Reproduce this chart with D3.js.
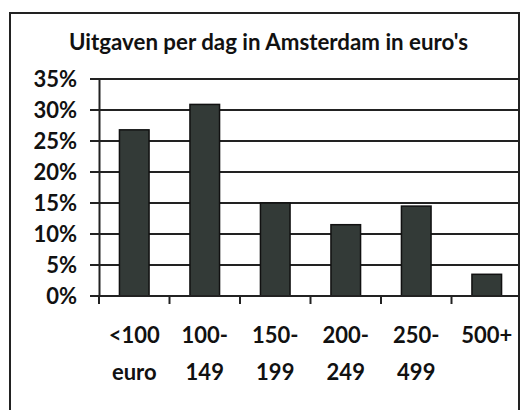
<!DOCTYPE html>
<html><head><meta charset="utf-8">
<script src="https://cdn.jsdelivr.net/npm/d3@7"></script>
<style>body{margin:0;background:#fff}svg{display:block}</style>
</head><body>
<script>
const title = "Uitgaven per dag in Amsterdam in euro's";
const categories = ["<100 euro", "100- 149", "150- 199", "200- 249", "250- 499", "500+"];
const labelLines = [["<100","euro"],["100-","149"],["150-","199"],["200-","249"],["250-","499"],["500+"]];
const values = [0.268, 0.309, 0.150, 0.115, 0.145, 0.035];
const yTicks = [0, 0.05, 0.10, 0.15, 0.20, 0.25, 0.30, 0.35];

const W = 521, H = 410;
const font = "Lato, 'Open Sans', sans-serif";
const svg = d3.select("body").append("svg").attr("width", W).attr("height", H);
svg.append("rect").attr("width", W).attr("height", H).attr("fill", "#fff");

// outer frame
svg.append("rect").attr("x", 10).attr("y", 13).attr("width", 509).attr("height", 420)
  .attr("fill", "#fff").attr("stroke", "#222").attr("stroke-width", 2);

const x = d3.scaleBand().domain(categories).range([99, 522]).paddingInner(0.58).paddingOuter(0.29);
const y = d3.scaleLinear().domain([0, 0.35]).range([296, 79]);

svg.append("text").attr("x", 268.5).attr("y", 50).attr("text-anchor", "middle")
  .attr("font-family", font).attr("font-weight", "bold").attr("font-size", 22.3)
  .attr("fill", "#111").text(title);

// gridlines
const g = svg.append("g");
g.selectAll("line.grid").data(yTicks).join("line")
  .attr("x1", 90).attr("x2", 520)
  .attr("y1", d => y(d)).attr("y2", d => y(d))
  .attr("stroke", "#222").attr("stroke-width", 1.8);

// y axis
const yAxis = d3.axisLeft(y).tickValues(yTicks).tickFormat(d3.format(".0%")).tickSize(0).tickPadding(22);
const ya = svg.append("g").attr("transform", "translate(99,0)").call(yAxis);
ya.select(".domain").attr("stroke", "#222").attr("stroke-width", 2);
ya.selectAll("text").attr("font-family", font).attr("font-weight", "bold").attr("font-size", 22).attr("fill", "#111");

// bars
svg.selectAll("rect.bar").data(values).join("rect").attr("class", "bar")
  .attr("x", (d, i) => x(categories[i])).attr("width", x.bandwidth())
  .attr("y", d => y(d)).attr("height", d => y(0) - y(d))
  .attr("fill", "#333a37").attr("stroke", "#111").attr("stroke-width", 1.5);

// x axis ticks at category boundaries
const bounds = categories.map(c => x(c) - x.step() * x.paddingInner() / 2);
svg.selectAll("line.xt").data(bounds).join("line")
  .attr("x1", d => d).attr("x2", d => d).attr("y1", y(0)).attr("y2", y(0) + 8)
  .attr("stroke", "#222").attr("stroke-width", 2);
svg.append("line").attr("x1", 99).attr("x2", 520).attr("y1", y(0)).attr("y2", y(0))
  .attr("stroke", "#222").attr("stroke-width", 2);

// x labels
const lab = svg.selectAll("text.xl").data(labelLines).join("text")
  .attr("font-family", font).attr("font-weight", "bold").attr("font-size", 22).attr("fill", "#111")
  .attr("text-anchor", "middle");
lab.each(function(lines, i) {
  const cx = x(categories[i]) + x.bandwidth() / 2;
  d3.select(this).selectAll("tspan").data(lines).join("tspan")
    .attr("x", cx).attr("y", (d, j) => 343 + j * 37).text(d => d);
});
</script>
</body></html>
